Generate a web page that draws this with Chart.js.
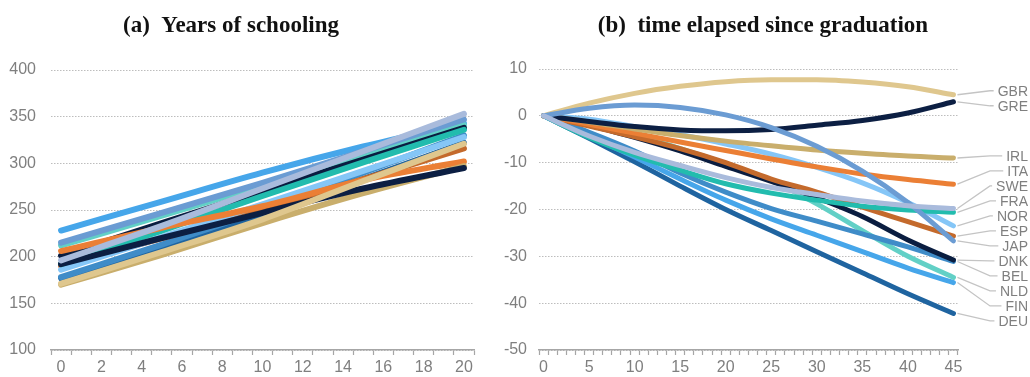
<!DOCTYPE html>
<html>
<head>
<meta charset="utf-8">
<script src="https://cdn.jsdelivr.net/npm/chart.js@4.4.1/dist/chart.umd.min.js"></script>
<style>
  html, body { margin: 0; padding: 0; background: #fff; }
  #wrap { position: relative; width: 1030px; height: 377px; }
  canvas { position: absolute; top: 0; }
</style>
</head>
<body>
<div id="wrap">
  <canvas id="schoolingChart" width="500" height="377" style="left:0"></canvas>
  <canvas id="elapsedChart" width="530" height="377" style="left:500px"></canvas>
</div>
<script>
const schoolingTicks = [0, 1, 2, 3, 4, 5, 6, 7, 8, 9, 10, 11, 12, 13, 14, 15, 16, 17, 18, 19, 20];
const schoolingAt = [0, 5, 10, 15, 20];
const schoolingSWE = [196, 233, 273, 313, 353];
const schoolingJAP = [215, 247, 279, 313, 347];
const schoolingGBR = [171, 205, 240, 281, 321];
const schoolingGRE = [192, 220, 247, 273, 295];
const schoolingIRL = [170, 202, 236, 268, 297];
const schoolingITA = [206, 231, 254, 282, 302];
const schoolingFRA = [192, 228, 265, 301, 336];
const schoolingNOR = [186, 221, 256, 292, 328];
const schoolingESP = [190, 220, 250, 283, 316];
const schoolingDNK = [201, 236, 270, 304, 338];
const schoolingBEL = [178, 213, 250, 290, 330];
const schoolingNLD = [212, 244, 276, 308, 341];
const schoolingFIN = [228, 259, 290, 318, 343];
const schoolingDEU = [177, 210, 245, 283, 322];

const elapsedTicks = [0, 1, 2, 3, 4, 5, 6, 7, 8, 9, 10, 11, 12, 13, 14, 15, 16, 17, 18, 19, 20, 21, 22,
  23, 24, 25, 26, 27, 28, 29, 30, 31, 32, 33, 34, 35, 36, 37, 38, 39, 40, 41, 42, 43, 44, 45];
const elapsedAt = [0, 5, 10, 15, 20, 25, 30, 35, 40, 45];
const elapsedSWE = [0, -4.3, -7.8, -10.6, -13.2, -15.3, -16.8, -18.2, -19.2, -19.8];
const elapsedJAP = [0, 1.6, 2.3, 1.8, 0.2, -2.5, -6.5, -11.8, -18.5, -26.7];
const elapsedGBR = [0, 2.7, 4.8, 6.3, 7.3, 7.7, 7.7, 7.2, 6.2, 4.5];
const elapsedGRE = [0, -1.2, -2.3, -3.0, -3.2, -2.9, -2.0, -1.0, 0.6, 3.0];
const elapsedIRL = [0, -1.3, -2.8, -4.2, -5.4, -6.4, -7.3, -8.0, -8.6, -9.0];
const elapsedITA = [0, -1.8, -3.7, -5.6, -7.4, -9.2, -10.9, -12.4, -13.6, -14.6];
const elapsedFRA = [0, -4.6, -8.4, -11.6, -14.5, -16.5, -18.0, -19.3, -20.1, -20.6];
const elapsedNOR = [0, -0.7, -2.3, -4.0, -6.0, -8.2, -11.0, -14.3, -18.5, -23.5];
const elapsedESP = [0, -2.2, -4.5, -7.0, -10.0, -13.5, -16.3, -19.5, -22.6, -25.7];
const elapsedDNK = [0, -2.0, -4.6, -7.5, -10.8, -14.0, -17.5, -21.5, -26.5, -30.8];
const elapsedBEL = [0, -3.5, -7.5, -12.2, -16.3, -19.8, -22.5, -25.2, -28.0, -31.1];
const elapsedNLD = [0, -1.6, -4.2, -7.0, -10.2, -13.8, -18.8, -24.5, -30.0, -34.5];
const elapsedFIN = [0, -4.3, -8.8, -13.5, -18.0, -22.0, -25.5, -29.0, -32.5, -35.6];
const elapsedDEU = [0, -4.8, -9.8, -15.0, -20.0, -24.5, -29.0, -33.5, -38.0, -42.2];

// first one is drawn on top
const countries = ["SWE", "JAP", "GBR", "GRE", "IRL", "ITA", "FRA", "NOR", "ESP", "DNK", "BEL", "NLD", "FIN", "DEU"];
const palette = {
  SWE: "#a9bbdc", JAP: "#6b9cd3", GBR: "#dfc78e", GRE: "#0c1f43", IRL: "#c9ae6c", ITA: "#eb7f35",
  FRA: "#22bcae", NOR: "#85c6f7", ESP: "#c46a2c", DNK: "#0a1d40", BEL: "#3f8cc8", NLD: "#62d0c6",
  FIN: "#46a6ea", DEU: "#1f64a0"
};
const schoolingByCountry = {
  SWE: schoolingSWE, JAP: schoolingJAP, GBR: schoolingGBR, GRE: schoolingGRE, IRL: schoolingIRL,
  ITA: schoolingITA, FRA: schoolingFRA, NOR: schoolingNOR, ESP: schoolingESP, DNK: schoolingDNK,
  BEL: schoolingBEL, NLD: schoolingNLD, FIN: schoolingFIN, DEU: schoolingDEU
};
const elapsedByCountry = {
  SWE: elapsedSWE, JAP: elapsedJAP, GBR: elapsedGBR, GRE: elapsedGRE, IRL: elapsedIRL,
  ITA: elapsedITA, FRA: elapsedFRA, NOR: elapsedNOR, ESP: elapsedESP, DNK: elapsedDNK,
  BEL: elapsedBEL, NLD: elapsedNLD, FIN: elapsedFIN, DEU: elapsedDEU
};

const GRID = "#bdbdbd";
const AXIS = "#a6a6a6";
const TICK_TEXT = "#7f7f7f";
const SANS = "'Liberation Sans', Arial, sans-serif";

function makeDatasets(byCountry, xs, width) {
  return countries.map(c => ({
    label: c,
    data: byCountry[c].map((v, i) => ({ x: xs[i], y: v })),
    borderColor: palette[c],
    borderWidth: width,
    borderCapStyle: "round",
    borderJoinStyle: "round",
    cubicInterpolationMode: "monotone",
    pointRadius: 0,
    fill: false,
    clip: false
  }));
}

// bold serif panel heading
const panelTitle = {
  id: "panelTitle",
  afterDraw(chart, args, opts) {
    const ctx = chart.ctx;
    ctx.save();
    ctx.font = "bold 23px 'Liberation Serif', 'Times New Roman', serif";
    ctx.fillStyle = "#111";
    ctx.textAlign = "center";
    ctx.textBaseline = "alphabetic";
    ctx.fillText(opts.text, opts.x, 32);
    ctx.restore();
  }
};

// country names at the line ends, spread apart, with grey leader lines
const endLabels = {
  id: "endLabels",
  afterDatasetsDraw(chart, args, opts) {
    const { ctx, chartArea } = chart;
    const gap = opts.gap;
    const items = chart.data.datasets.map((ds, i) => {
      const pts = chart.getDatasetMeta(i).data;
      const last = pts[pts.length - 1];
      return { text: ds.label, x: last.x, y: last.y };
    }).sort((a, b) => a.y - b.y);

    let groups = items.map(it => ({ members: [it], top: it.y }));
    let merged = true;
    while (merged) {
      merged = false;
      for (let i = 0; i < groups.length - 1; i++) {
        const a = groups[i], b = groups[i + 1];
        if (a.top + a.members.length * gap > b.top) {
          const members = a.members.concat(b.members);
          const mean = members.reduce((s, m) => s + m.y, 0) / members.length;
          groups.splice(i, 2, { members, top: mean - (members.length - 1) * gap / 2 });
          merged = true;
          break;
        }
      }
    }
    groups.forEach(g => g.members.forEach((m, k) => { m.ly = g.top + k * gap; }));

    const textRight = chart.width - 2;
    const elbowX = chartArea.right + 32;
    ctx.save();
    ctx.font = "14px " + SANS;
    ctx.textAlign = "right";
    ctx.textBaseline = "middle";
    items.forEach(it => {
      const w = ctx.measureText(it.text).width;
      ctx.strokeStyle = "#c4c4c4";
      ctx.lineWidth = 1.3;
      ctx.beginPath();
      ctx.moveTo(it.x + 4, it.y);
      ctx.lineTo(elbowX, it.ly);
      ctx.lineTo(textRight - w - 4, it.ly);
      ctx.stroke();
      ctx.fillStyle = TICK_TEXT;
      ctx.fillText(it.text, textRight, it.ly + 1);
    });
    ctx.restore();
  }
};

function baseOptions(yMin, yMax, yStep, yWidth, yPad, every, padding, title) {
  return {
    responsive: false,
    animation: false,
    layout: { padding },
    plugins: {
      legend: { display: false },
      tooltip: { enabled: false },
      panelTitle: title
    },
    scales: {
      x: {
        type: "category",
        offset: true,
        grid: {
          offset: true,
          drawOnChartArea: false,
          drawTicks: true,
          tickLength: 5,
          tickColor: AXIS,
          tickWidth: 1.2
        },
        border: { display: true, color: AXIS, width: 1.5 },
        ticks: {
          autoSkip: false,
          maxRotation: 0,
          padding: 3,
          color: TICK_TEXT,
          font: { family: SANS, size: 16 },
          callback(value) {
            const lab = this.getLabelForValue(value);
            return lab % every === 0 ? String(lab) : "";
          }
        },
        afterFit(scale) { scale.height = 27; }
      },
      y: {
        min: yMin,
        max: yMax,
        grid: { color: GRID, lineWidth: 1, drawTicks: false },
        border: { display: false, dash: [1.5, 1.5] },
        ticks: {
          stepSize: yStep,
          padding: yPad,
          color: TICK_TEXT,
          font: { family: SANS, size: 16 }
        },
        afterFit(scale) { scale.width = yWidth; }
      }
    }
  };
}

new Chart(document.getElementById("schoolingChart"), {
  type: "line",
  data: { labels: schoolingTicks, datasets: makeDatasets(schoolingByCountry, schoolingAt, 6) },
  options: baseOptions(100, 400, 50, 51, 15, 2, { top: 70, right: 26, left: 0, bottom: 0 },
    { text: "(a)  Years of schooling", x: 231 }),
  plugins: [panelTitle]
});

new Chart(document.getElementById("elapsedChart"), {
  type: "line",
  data: { labels: elapsedTicks, datasets: makeDatasets(elapsedByCountry, elapsedAt, 5) },
  options: (() => {
    const o = baseOptions(-50, 10, 10, 39, 12, 5, { top: 69, right: 72, left: 0, bottom: 0 },
      { text: "(b)  time elapsed since graduation", x: 263 });
    o.plugins.endLabels = { gap: 15 };
    return o;
  })(),
  plugins: [panelTitle, endLabels]
});
</script>
</body>
</html>
